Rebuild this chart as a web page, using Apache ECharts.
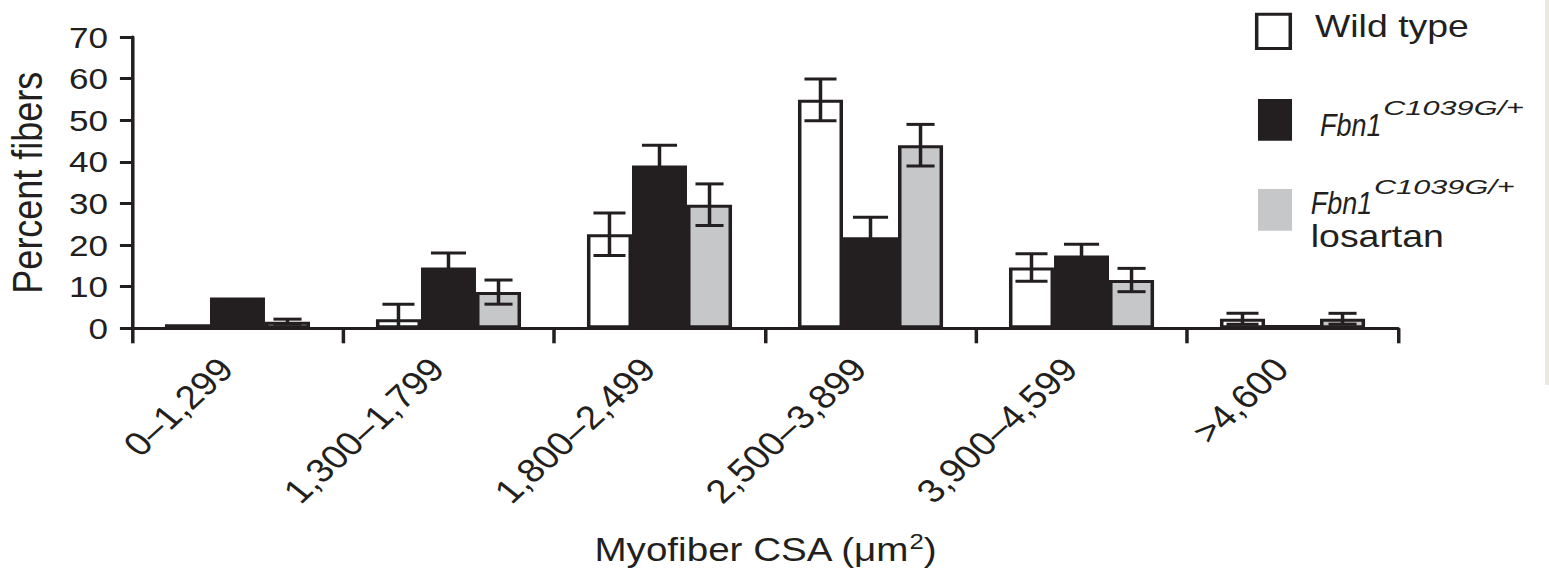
<!DOCTYPE html>
<html>
<head>
<meta charset="utf-8">
<title>Myofiber cross-sectional area distribution</title>
<script src="https://cdn.jsdelivr.net/npm/echarts@6.0.0/dist/echarts.min.js"></script>
<style>
  html, body { margin: 0; padding: 0; background: #ffffff; width: 1549px; height: 573px; overflow: hidden; }
  /* the figure is drawn in a narrower box and widened horizontally */
  #chart { width: 1324px; height: 573px; transform: scaleX(1.17); transform-origin: 0 0; }
</style>
</head>
<body>
<div id="chart"></div>
<script>
// Size classes of myofiber cross-sectional area
const categories = ['0–1,299', '1,300–1,799', '1,800–2,499', '2,500–3,899', '3,900–4,599', '>4,600'];

// Percent of fibers per class (mean) and error (half-length of the error bar)
const wildType          = [1.0, 2.2, 22.6, 54.9, 14.6, 2.3];
const wildTypeErr       = [0, 3.6, 5.1, 5.0, 3.3, 1.3];
const fbn1              = [7.4, 14.6, 39.1, 21.9, 17.5, 0.8];
const fbn1Err           = [0, 3.5, 4.9, 4.8, 2.7, 0];
const fbn1Losartan      = [1.6, 8.7, 29.7, 44.0, 11.6, 2.3];
const fbn1LosartanErr   = [0.6, 2.9, 5.0, 5.0, 2.8, 1.3];

// Value-axis ticks
const percentTicks = [0, 10, 20, 30, 40, 50, 60, 70];

// Legend texts
const legendWildType = 'Wild type';
const legendGene = 'Fbn1';
const legendAllele = 'C1039G/+';
const legendTreatment = 'losartan';

const INK = '#231f20';
const GREY = '#c6c7c9';
const FONT = '"Liberation Sans", Arial, Helvetica, sans-serif';

const BAR_W = [38.5, 47, 38.5];
const OFFSETS = [-(BAR_W[0] + BAR_W[1]) / 2, 0, (BAR_W[1] + BAR_W[2]) / 2];

function errorBars(name, values, errors, offset, capHalf) {
  return {
    type: 'custom',
    name: name + ' error',
    silent: true,
    z: 5,
    data: values.map((v, i) => [i, v, errors[i]]),
    encode: { x: 0, y: 1 },
    renderItem(params, api) {
      const i = api.value(0);
      const v = api.value(1);
      const e = api.value(2);
      if (!e) return null;
      const top = api.coord([i, v + e]);
      const low = api.coord([i, Math.max(0, v - e)]);
      const x = top[0] + offset;
      const st = { stroke: INK, lineWidth: 3 };
      const children = [
        { type: 'line', shape: { x1: x, y1: top[1], x2: x, y2: low[1] }, style: st },
        { type: 'line', shape: { x1: x - capHalf, y1: top[1], x2: x + capHalf, y2: top[1] }, style: st }
      ];
      if (v - e > 0) {
        children.push({ type: 'line', shape: { x1: x - capHalf, y1: low[1], x2: x + capHalf, y2: low[1] }, style: st });
      }
      return { type: 'group', children };
    }
  };
}

// italic gene symbol with its superscript allele, as two pieces of text
function geneLabel(x, yMain, ySup) {
  const mainScale = 0.72;
  const mainWidth = 32 * 2.279 * mainScale;
  return [
    { type: 'text', silent: true, x: x, y: yMain, scaleX: mainScale,
      style: { text: legendGene, fontSize: 32, fontStyle: 'italic', fontFamily: FONT, fill: INK, verticalAlign: 'middle' } },
    { type: 'text', silent: true, x: x + mainWidth + 1.5, y: ySup, scaleX: 1.25,
      style: { text: legendAllele, fontSize: 21, fontStyle: 'italic', fontFamily: FONT, fill: INK, verticalAlign: 'middle' } }
  ];
}

const chart = echarts.init(document.getElementById('chart'), null, { renderer: 'svg' });

chart.setOption({
  animation: false,
  backgroundColor: '#ffffff',
  textStyle: { fontFamily: FONT, color: INK },
  grid: { left: 112.8, right: 129.1, top: 37, bottom: 244.7, containLabel: false, outerBoundsMode: 'none' },
  xAxis: {
    type: 'category',
    data: categories,
    boundaryGap: true,
    axisLine: { show: true, lineStyle: { color: INK, width: 3 } },
    axisTick: { show: true, interval: 0, length: 15, lineStyle: { color: INK, width: 3 } },
    axisLabel: { interval: 0, rotate: 47, margin: 25, padding: [0, 14, 0, 0], fontSize: 33, color: INK, fontFamily: FONT },
    splitLine: { show: false },
    name: '{m|Myofiber CSA (μm}{s|2}{m|)}',
    nameLocation: 'middle',
    nameGap: 202,
    nameTextStyle: {
      fontFamily: FONT,
      color: INK,
      rich: {
        m: { fontSize: 33, lineHeight: 38, fontFamily: FONT, color: INK },
        s: { fontSize: 22, lineHeight: 22, verticalAlign: 'top', fontFamily: FONT, color: INK }
      }
    }
  },
  yAxis: {
    type: 'value',
    min: percentTicks[0],
    max: percentTicks[percentTicks.length - 1],
    interval: percentTicks[1] - percentTicks[0],
    axisLine: { show: true, lineStyle: { color: INK, width: 3 } },
    axisTick: { show: true, length: 10.3, lineStyle: { color: INK, width: 3 } },
    axisLabel: { margin: 20.5, fontSize: 30, color: INK, fontFamily: FONT },
    splitLine: { show: false },
    name: 'Percent fibers',
    nameLocation: 'middle',
    nameRotate: 90,
    nameGap: 74.3,
    nameTextStyle: { fontSize: 36, lineHeight: 30, color: INK, fontFamily: FONT }
  },
  series: [
    {
      type: 'bar', name: legendWildType, data: wildType,
      barWidth: BAR_W[0], barGap: '0%', silent: true,
      itemStyle: { color: '#ffffff', borderColor: INK, borderWidth: 3 }
    },
    {
      type: 'bar', name: legendGene + legendAllele, data: fbn1,
      barWidth: BAR_W[1], barGap: '0%', silent: true,
      itemStyle: { color: INK, borderColor: INK, borderWidth: 0 }
    },
    {
      type: 'bar', name: legendGene + legendAllele + ' ' + legendTreatment, data: fbn1Losartan,
      barWidth: BAR_W[2], barGap: '0%', silent: true,
      itemStyle: { color: GREY, borderColor: INK, borderWidth: 3 }
    },
    errorBars(legendWildType, wildType, wildTypeErr, OFFSETS[0], 13.7),
    errorBars(legendGene, fbn1, fbn1Err, OFFSETS[1], 15),
    errorBars(legendGene + ' ' + legendTreatment, fbn1Losartan, fbn1LosartanErr, OFFSETS[2], 12)
  ],
  graphic: [
    // key swatches
    { type: 'rect', silent: true, shape: { x: 1074.1, y: 14.2, width: 28.7, height: 34.3 },
      style: { fill: '#ffffff', stroke: INK, lineWidth: 3 } },
    { type: 'rect', silent: true, shape: { x: 1075.2, y: 99, width: 29.1, height: 41.7 },
      style: { fill: INK } },
    { type: 'rect', silent: true, shape: { x: 1075.2, y: 189, width: 29.1, height: 41.7 },
      style: { fill: GREY } },
    // key texts
    { type: 'text', silent: true, x: 1123.9, y: 26,
      style: { text: legendWildType, fontSize: 32, fontFamily: FONT, fill: INK, verticalAlign: 'middle' } },
    ...geneLabel(1128.2, 125, 107.5),
    ...geneLabel(1120.3, 202.5, 187),
    { type: 'text', silent: true, x: 1120.3, y: 235.5,
      style: { text: legendTreatment, fontSize: 32, fontFamily: FONT, fill: INK, verticalAlign: 'middle' } },
    // thin tinted strip along the right edge
    { type: 'rect', silent: true, shape: { x: 1320.5, y: 0, width: 4, height: 385 },
      style: { fill: '#ede9df' } }
  ]
});
</script>
</body>
</html>
